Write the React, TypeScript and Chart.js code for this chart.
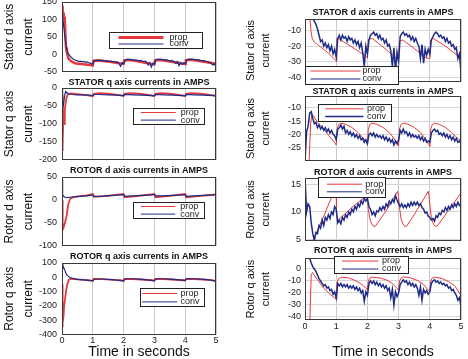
import React, { useEffect, useRef } from "react";
import { Chart, registerables } from "chart.js";

Chart.register(...registerables);

const FONT = "'Liberation Sans', Arial, Helvetica, sans-serif";
Chart.defaults.font.family = FONT;

const RED = "#e6393b";
const BLUE = "#1e2b87";
const GRID = "#c9c9c9";
const HGRID = "#d6d6d6";

// ---------- shared axis values ----------
const TIME_TICKS = [0, 1, 2, 3, 4, 5];
const T05 = [
  0, 0.05, 0.1, 0.15, 0.2, 0.25, 0.3, 0.35, 0.4, 0.45,
  0.5, 0.55, 0.6, 0.65, 0.7, 0.75, 0.8, 0.85, 0.9, 0.95,
  1, 1.05, 1.1, 1.15, 1.2, 1.25, 1.3, 1.35, 1.4, 1.45,
  1.5, 1.55, 1.6, 1.65, 1.7, 1.75, 1.8, 1.85, 1.9, 1.95,
  2, 2.05, 2.1, 2.15, 2.2, 2.25, 2.3, 2.35, 2.4, 2.45,
  2.5, 2.55, 2.6, 2.65, 2.7, 2.75, 2.8, 2.85, 2.9, 2.95,
  3, 3.05, 3.1, 3.15, 3.2, 3.25, 3.3, 3.35, 3.4, 3.45,
  3.5, 3.55, 3.6, 3.65, 3.7, 3.75, 3.8, 3.85, 3.9, 3.95,
  4, 4.05, 4.1, 4.15, 4.2, 4.25, 4.3, 4.35, 4.4, 4.45,
  4.5, 4.55, 4.6, 4.65, 4.7, 4.75, 4.8, 4.85, 4.9, 4.95,
  5,
];

// ---------- LEFT column ----------
const L1_Y_TICKS = [-50, 0, 50, 100, 150];
const L1_PROP_T = [0, 0.01, 0.02, 0.03, 0.05, 0.07, 0.09, 0.11, 0.13, 0.16, 0.21, 0.3, 0.45, 0.7, 1.0, 1.02, 1.2, 1.5, 1.9, 2.0, 2.02, 2.2, 2.5, 2.9, 3.0, 3.02, 3.2, 3.5, 3.9, 4.0, 4.02, 4.2, 4.5, 4.9, 5.0];
const L1_PROP_V = [140, 128, 138, 122, 118, 108, 100, 60, 20, 5, -11, -20, -26, -28, -31, -18, -17, -20, -26, -27, -17, -16, -20, -27, -28, -17, -16, -20, -26, -27, -16, -15, -19, -25, -27];
const L1_CONV_V = [
  130, 85, 45, 15, 3, -3, -8, -12, -15, -17,
  -18, -20, -19, -21, -20, -22, -21, -23, -24, -26,
  -27, -18, -17, -16, -17, -16, -18, -17, -19, -18,
  -19, -20, -19, -21, -20, -22, -21, -25, -34, -24,
  -26, -16, -14, -13, -15, -14, -16, -15, -17, -16,
  -18, -17, -19, -20, -19, -22, -30, -23, -36, -25,
  -28, -15, -13, -14, -13, -15, -14, -16, -15, -17,
  -18, -17, -19, -21, -26, -20, -32, -23, -28, -24,
  -26, -16, -14, -13, -14, -13, -15, -14, -16, -15,
  -17, -18, -17, -19, -20, -21, -22, -26, -30, -27,
  -36,
];

const L2_Y_TICKS = [-200, -150, -100, -50, 0];
const L2_PROP_T = [0, 0.01, 0.02, 0.03, 0.04, 0.05, 0.07, 0.09, 0.12, 0.15, 0.2, 0.3, 0.5, 0.8, 1.0, 1.03, 1.2, 1.5, 1.8, 2.0, 2.03, 2.2, 2.5, 2.8, 3.0, 3.03, 3.2, 3.5, 3.8, 4.0, 4.03, 4.2, 4.5, 4.8, 5.0];
const L2_PROP_V = [-20, -175, -110, -160, -90, -60, -100, -65, -40, -25, -17, -15, -17, -20, -23, -16, -14, -16, -19, -22, -16, -14, -16, -19, -22, -16, -14, -16, -19, -22, -16, -14, -16, -19, -21];
const L2_CONV_T = [0, 0.01, 0.02, 0.03, 0.05, 0.08, 0.1, 0.12, 0.15, 0.2, 0.3, 0.5, 0.7, 0.9, 1.0, 1.05, 1.2, 1.5, 1.8, 2.0, 2.05, 2.3, 2.6, 2.9, 3.0, 3.05, 3.3, 3.6, 3.9, 4.0, 4.05, 4.3, 4.6, 4.9, 5.0];
const L2_CONV_V = [0, -30, -55, -60, -45, -25, -14, -10, -12, -16, -18, -19, -19, -20, -21, -18, -18, -19, -20, -21, -18, -19, -20, -21, -22, -18, -19, -20, -21, -22, -18, -19, -20, -21, -23];

const L3_Y_TICKS = [-100, -50, 0, 50];
const L3_PROP_T = [0, 0.01, 0.03, 0.06, 0.1, 0.15, 0.2, 0.26, 0.35, 0.5, 0.8, 1.0, 1.03, 1.5, 2.0, 2.03, 2.5, 3.0, 3.03, 3.5, 4.0, 4.03, 4.5, 5.0];
const L3_PROP_V = [0, -50, -65, -58, -48, -35, -10, 2, 6, 8, 10, 13, 7, 9, 13, 6, 9, 13, 6, 9, 13, 6, 9, 12];
const L3_CONV_T = [0, 0.02, 0.05, 0.1, 0.15, 0.25, 0.4, 0.6, 0.8, 1.0, 1.05, 1.3, 1.6, 1.9, 2.0, 2.05, 2.3, 2.6, 2.9, 3.0, 3.05, 3.3, 3.6, 3.9, 4.0, 4.05, 4.3, 4.6, 4.9, 5.0];
const L3_CONV_V = [45, 12, 8, 6, 5, 6, 7, 8, 9, 11, 8, 8, 10, 11, 11, 8, 9, 10, 11, 12, 9, 9, 10, 11, 11, 8, 9, 10, 11, 12];

const L4_Y_TICKS = [-400, -300, -200, -100, 0, 100];
const L4_PROP_T = [0, 0.01, 0.02, 0.03, 0.05, 0.07, 0.1, 0.13, 0.17, 0.22, 0.3, 0.5, 0.8, 1.0, 1.03, 1.3, 1.7, 2.0, 2.03, 2.3, 2.7, 3.0, 3.03, 3.3, 3.7, 4.0, 4.03, 4.3, 4.7, 5.0];
const L4_PROP_V = [-50, -350, -260, -320, -270, -200, -150, -100, -50, -18, -10, -14, -20, -25, -12, -13, -18, -24, -11, -12, -17, -22, -11, -12, -17, -22, -11, -12, -17, -25];
const L4_CONV_T = [0, 0.03, 0.06, 0.1, 0.15, 0.2, 0.25, 0.35, 0.5, 0.7, 0.9, 1.0, 1.05, 1.3, 1.6, 1.9, 2.0, 2.05, 2.3, 2.6, 2.9, 3.0, 3.05, 3.3, 3.6, 3.9, 4.0, 4.05, 4.3, 4.6, 4.9, 5.0];
const L4_CONV_V = [100, 80, 65, 45, 18, 8, 0, -8, -14, -18, -22, -25, -12, -12, -16, -22, -27, -10, -10, -15, -22, -25, -10, -10, -15, -20, -22, -9, -10, -15, -22, -30];

// ---------- RIGHT column (zoomed) ----------
const R1_Y_TICKS = [-40, -30, -20, -10];
const R1_PROP_T = [0.13, 0.16, 0.19, 0.23, 0.3, 0.4, 0.5, 0.75, 1.0, 1.02, 1.1, 1.5, 1.92, 2.0, 2.03, 2.15, 2.5, 2.94, 3.0, 3.03, 3.13, 3.5, 3.88, 4.0, 4.03, 4.1, 4.5, 4.89, 5.0];
const R1_PROP_V = [10, -3, -10, -15, -17.5, -19, -20.5, -24.5, -29.5, -15, -15.5, -20.5, -26, -27.5, -16, -15, -20.5, -28, -29, -17, -16, -21.5, -27.5, -28, -16, -15, -20, -26, -27];
const R1_CONV_V = [
  20, 15, 8, 3, -1, -2.5, -4, -6, -9, -13,
  -17, -16, -20, -18, -21, -19, -23, -20, -25, -22,
  -27, -15, -13, -16, -13, -15, -14, -17, -14, -16,
  -15, -18, -16, -19, -17, -21, -18, -24, -33, -20,
  -25, -16, -13, -12, -11, -13, -12, -15, -13, -16,
  -15, -18, -16, -20, -19, -23, -33, -21, -36, -24,
  -30, -14, -12, -11, -13, -12, -14, -13, -16, -14,
  -17, -15, -18, -20, -28, -19, -31, -22, -26, -22,
  -25, -16, -14, -12, -11, -12, -14, -13, -15, -14,
  -17, -15, -18, -17, -20, -19, -22, -21, -28, -25,
  -37,
];

const R2_Y_TICKS = [-25, -20, -15, -10];
const R2_PROP_T = [0.12, 0.14, 0.18, 0.22, 0.3, 0.4, 0.6, 0.8, 0.98, 1.0, 1.03, 1.08, 1.15, 1.3, 1.5, 1.7, 1.85, 1.98, 2.0, 2.03, 2.08, 2.15, 2.3, 2.5, 2.7, 2.85, 2.98, 3.0, 3.03, 3.08, 3.15, 3.3, 3.5, 3.7, 3.85, 3.98, 4.0, 4.03, 4.08, 4.15, 4.3, 4.5, 4.7, 4.85, 5.0];
const R2_PROP_V = [-32, -28, -16, -12.5, -13.5, -15.5, -18, -21, -23.5, -24, -18, -16.3, -15.8, -16.2, -17.4, -19.3, -21.2, -23, -23.5, -18, -16.3, -15.8, -16.2, -17.4, -19.3, -21.5, -24, -24.5, -18, -16.3, -15.8, -16.2, -17.4, -19.3, -21.5, -24, -24.5, -18, -16.3, -15.8, -16.2, -17.4, -19.3, -21, -22.5];
const R2_CONV_V = [
  -30, -19, -17, -12, -11.5, -14, -16, -15.5, -17.5, -16.5,
  -18, -17, -18.5, -17.5, -19, -18, -19.5, -18.5, -20, -20.5,
  -22, -18, -17.5, -16.5, -18, -17, -19.5, -18.5, -20, -19,
  -20.5, -19.5, -21, -20, -21.5, -20.5, -22, -21.5, -23, -22,
  -23.5, -20, -19.5, -20.5, -19.5, -21, -20, -21, -20.5, -21.5,
  -20.5, -22, -21, -22.5, -21.5, -23, -22, -24, -22.5, -23.5,
  -22, -18.5, -19.5, -18, -19.5, -19, -20.5, -19.5, -21, -20,
  -21, -20.5, -21.5, -20.5, -22, -21, -22.5, -21.5, -23, -22.5,
  -23, -19.5, -18.5, -18, -19, -18.5, -20, -19.5, -20.5, -19.5,
  -21, -20, -21.5, -20.5, -22, -21, -22.5, -21.5, -23, -22.5,
  -23.5,
];

const R3_Y_TICKS = [5, 10, 15];
const R3_PROP_T = [0.2, 0.27, 0.6, 1.0, 1.01, 1.06, 1.5, 1.97, 2.0, 2.03, 2.07, 2.12, 2.2, 2.26, 2.6, 2.97, 3.0, 3.03, 3.07, 3.12, 3.2, 3.26, 3.6, 3.95, 3.98, 4.01, 4.05, 4.1, 4.18, 4.24, 4.6, 5.0];
const R3_PROP_V = [2, 5, 9.2, 14.8, 9.5, 8.5, 10.8, 13, 12.2, 10.5, 9, 8, 7.3, 7.4, 10.2, 13.8, 12.8, 10.8, 9, 8, 7.3, 7.4, 10.4, 13.8, 12.8, 10.8, 9, 8, 7.3, 7.4, 10.3, 13.5];
const R3_CONV_V = [
  16.5, 10, 11.5, 11, 8, 6, 4.8, 6.2, 6, 7.5,
  7, 8.5, 7.5, 9, 8.5, 9.5, 8.8, 10, 9.5, 11,
  10.5, 8, 8.5, 7.8, 9, 8.5, 9.5, 9, 10, 9.5,
  10.5, 10, 11, 10.5, 11.5, 11, 12, 11.5, 12.5, 12,
  12.5, 11, 10.5, 9.5, 10, 9.3, 10.2, 10, 10.8, 10.3,
  11, 10.5, 11.5, 11, 12, 11.5, 12.3, 11.8, 13, 12.2,
  11.5, 11, 11.5, 10.8, 11.3, 10.8, 11.5, 11, 11.8, 11.2,
  11.8, 11.3, 11.8, 11.2, 11.5, 10.8, 10.5, 9.8, 10, 9.2,
  9, 8.5, 8.8, 8.3, 9.3, 9, 9.8, 9.5, 10.3, 10,
  10.8, 10.3, 11, 10.5, 11.3, 10.8, 11.5, 11, 11.8, 11.2,
  11.5,
];

const R4_Y_TICKS = [-40, -30, -20, -10, 0];
const R4_PROP_T = [0.15, 0.18, 0.2, 0.24, 0.4, 0.6, 0.8, 1.0, 1.02, 1.08, 1.18, 1.4, 1.6, 1.8, 1.98, 2.0, 2.03, 2.08, 2.15, 2.4, 2.6, 2.8, 2.96, 3.0, 3.03, 3.08, 3.15, 3.4, 3.6, 3.8, 3.96, 4.0, 4.03, 4.08, 4.17, 4.4, 4.6, 4.8, 5.0];
const R4_PROP_V = [-50, -20, -5, -3, -9, -16, -21, -25, -12, -8, -6.8, -7.5, -9.5, -12.5, -16.5, -17.5, -10, -7.5, -6.8, -7.5, -9, -12, -16.5, -18, -10, -7.5, -6.5, -7.5, -9.5, -13, -18, -19, -10, -7.5, -6.8, -8, -10.5, -14, -22];
const R4_CONV_V = [
  60, 30, 15, 9, 5, 2, 0, -2, -5, -8,
  -10, -12, -14, -13, -16, -15, -18, -17, -21, -19,
  -24, -12, -14, -12, -15, -13, -15, -13, -16, -14,
  -16, -14, -17, -15, -18, -16, -20, -18, -27, -19,
  -22, -12, -10, -12, -10, -13, -11, -14, -12, -15,
  -13, -16, -14, -18, -16, -24, -17, -30, -19, -23,
  -20, -13, -11, -9, -11, -10, -13, -11, -14, -12,
  -15, -13, -16, -22, -15, -26, -17, -20, -18, -21,
  -19, -12, -10, -9, -11, -10, -12, -11, -13, -12,
  -14, -13, -16, -15, -18, -17, -20, -22, -26, -24,
  -31,
];

// ---------- layout ----------
type Legend = { dx: number; dy: number; w: number; h: number; rows: number[]; l0: number; l1: number; tx: number; lw: number[] };
type Panel = {
  id: string;
  col: number;
  plot: { l: number; t: number; r: number; b: number };
  title: string | null;
  titleY: number;
  yLabel: string[];
  yMin: number;
  yMax: number;
  yTicks: number[];
  showX: boolean;
  propT: number[];
  propV: number[];
  convT: number[];
  convV: number[];
  propW: number;
  convW: number;
  legend: Legend;
};

const PANELS: Panel[] = [
  {
    id: "L1", col: 0, plot: { l: 62, t: 2, r: 216, b: 72 }, title: null, titleY: 0,
    yLabel: ["Stator d axis", "current"], yMin: -50, yMax: 150, yTicks: L1_Y_TICKS, showX: false,
    propT: L1_PROP_T, propV: L1_PROP_V, convT: T05, convV: L1_CONV_V, propW: 2.5, convW: 1.2,
    legend: { dx: 47, dy: 30, w: 93, h: 16, rows: [5, 11.5], l0: 9, l1: 54, tx: 60, lw: [3, 1] },
  },
  {
    id: "R1", col: 1, plot: { l: 305, t: 19, r: 461, b: 82 }, title: "STATOR d axis currents in AMPS", titleY: 13,
    yLabel: ["Stator d axis", "current"], yMin: -43, yMax: -2.6, yTicks: R1_Y_TICKS, showX: false,
    propT: R1_PROP_T, propV: R1_PROP_V, convT: T05, convV: R1_CONV_V, propW: 1, convW: 1.5,
    legend: { dx: 0, dy: 47, w: 93, h: 18, rows: [4.5, 12.5], l0: 5, l1: 55, tx: 57, lw: [1, 1.2] },
  },
  {
    id: "L2", col: 0, plot: { l: 62, t: 88, r: 216, b: 160 }, title: "STATOR q axis currents in AMPS", titleY: 83,
    yLabel: ["Stator q axis", "current"], yMin: -200, yMax: 0, yTicks: L2_Y_TICKS, showX: false,
    propT: L2_PROP_T, propV: L2_PROP_V, convT: L2_CONV_T, convV: L2_CONV_V, propW: 1.8, convW: 1.2,
    legend: { dx: 70.7, dy: 19.7, w: 70.6, h: 15.6, rows: [4, 11.6], l0: 7.3, l1: 42.3, tx: 47.3, lw: [1, 1] },
  },
  {
    id: "R2", col: 1, plot: { l: 305, t: 96, r: 461, b: 161 }, title: "STATOR q axis currents in AMPS", titleY: 92,
    yLabel: ["Stator q axis", "current"], yMin: -30, yMax: -5.6, yTicks: R2_Y_TICKS, showX: false,
    propT: R2_PROP_T, propV: R2_PROP_V, convT: T05, convV: R2_CONV_V, propW: 1, convW: 1.5,
    legend: { dx: 13.3, dy: 8, w: 73.4, h: 16.7, rows: [4.3, 12], l0: 6.7, l1: 45, tx: 48.4, lw: [1, 1.5] },
  },
  {
    id: "L3", col: 0, plot: { l: 62, t: 177, r: 216, b: 246 }, title: "ROTOR d axis currents in AMPS", titleY: 170.5,
    yLabel: ["Rotor d axis", "current"], yMin: -100, yMax: 50, yTicks: L3_Y_TICKS, showX: false,
    propT: L3_PROP_T, propV: L3_PROP_V, convT: L3_CONV_T, convV: L3_CONV_V, propW: 1.8, convW: 1.2,
    legend: { dx: 71.3, dy: 24.7, w: 70.7, h: 15.6, rows: [4, 11.6], l0: 7.4, l1: 41.7, tx: 46.7, lw: [1, 1] },
  },
  {
    id: "R3", col: 1, plot: { l: 305, t: 178.3, r: 461, b: 240.7 }, title: "ROTOR d axis currents in AMPS", titleY: 172.5,
    yLabel: ["Rotor d axis", "current"], yMin: 4.7, yMax: 16.2, yTicks: R3_Y_TICKS, showX: false,
    propT: R3_PROP_T, propV: R3_PROP_V, convT: T05, convV: R3_CONV_V, propW: 1, convW: 1.5,
    legend: { dx: 13.3, dy: -1.3, w: 66.7, h: 20, rows: [6.7, 14.3], l0: 8.4, l1: 43.4, tx: 46.7, lw: [1, 1] },
  },
  {
    id: "L4", col: 0, plot: { l: 62, t: 263, r: 216, b: 334.5 }, title: "ROTOR q axis currents in AMPS", titleY: 256.7,
    yLabel: ["Rotor q axis", "current"], yMin: -400, yMax: 100, yTicks: L4_Y_TICKS, showX: true,
    propT: L4_PROP_T, propV: L4_PROP_V, convT: L4_CONV_T, convV: L4_CONV_V, propW: 1.8, convW: 1.2,
    legend: { dx: 78, dy: 25.3, w: 64, h: 18.4, rows: [5, 13.4], l0: 1.7, l1: 36.7, tx: 40, lw: [1, 1] },
  },
  {
    id: "R4", col: 1, plot: { l: 305, t: 258.3, r: 461, b: 320 }, title: "ROTOR q axis currents in AMPS", titleY: 251,
    yLabel: ["Rotor q axis", "current"], yMin: -42.5, yMax: 8.9, yTicks: R4_Y_TICKS, showX: true,
    propT: R4_PROP_T, propV: R4_PROP_V, convT: T05, convV: R4_CONV_V, propW: 1, convW: 1.5,
    legend: { dx: 29.3, dy: -2.3, w: 74, h: 17, rows: [4.5, 12.5], l0: 7.4, l1: 44, tx: 47.4, lw: [1, 1] },
  },
];

const X_BOTTOM = 361;

function geom(p: Panel) {
  const cl = p.col === 0 ? 0 : 234;
  const cr = p.col === 0 ? 224 : 468;
  const yAxisW = p.plot.l - cl;
  const padRight = cr - p.plot.r;
  let ct: number;
  let padTop = 0;
  let titlePadTop = 0;
  let titlePadBottom = 0;
  if (p.title) {
    ct = Math.round(p.titleY - 5.5);
    titlePadTop = p.titleY - 4.5 - ct;
    titlePadBottom = p.plot.t - ct - 9 - titlePadTop;
  } else {
    ct = Math.floor(p.plot.t) - 8;
    padTop = p.plot.t - ct;
  }
  let cb: number;
  let xAxisH: number;
  let padBottom: number;
  if (p.showX) {
    cb = X_BOTTOM;
    xAxisH = cb - p.plot.b;
    padBottom = 0;
  } else {
    cb = Math.ceil(p.plot.b) + 4;
    xAxisH = 0;
    padBottom = cb - p.plot.b;
  }
  return { cl, ct, w: cr - cl, h: cb - ct, yAxisW, padRight, padTop, padBottom, xAxisH, titlePadTop, titlePadBottom };
}

function makeFrameLegend(lg: Legend) {
  return {
    id: "frameLegend",
    afterDatasetsDraw(chart: any) {
      const { ctx, chartArea: a } = chart;
      ctx.save();
      ctx.strokeStyle = "#3a3a3a";
      ctx.lineWidth = 1;
      const x0 = Math.round(a.left) + 0.5;
      const y0 = Math.round(a.top) + 0.5;
      const x1 = Math.round(a.right) - 0.5;
      const y1 = Math.round(a.bottom) - 0.5;
      ctx.strokeRect(x0, y0, x1 - x0, y1 - y0);

      const bx = Math.round(a.left + lg.dx) + 0.5;
      const by = Math.round(a.top + lg.dy) + 0.5;
      ctx.fillStyle = "#ffffff";
      ctx.fillRect(bx, by, lg.w, lg.h);
      ctx.strokeStyle = "#222";
      ctx.lineWidth = 1;
      ctx.strokeRect(bx, by, Math.round(lg.w), Math.round(lg.h));
      ctx.font = `9px ${FONT}`;
      ctx.textBaseline = "middle";
      ctx.textAlign = "left";
      chart.data.datasets.forEach((ds: any, i: number) => {
        const ry = by + lg.rows[i];
        ctx.strokeStyle = ds.borderColor;
        ctx.lineWidth = lg.lw[i];
        ctx.beginPath();
        ctx.moveTo(bx + lg.l0, ry);
        ctx.lineTo(bx + lg.l1, ry);
        ctx.stroke();
        ctx.fillStyle = "#222";
        ctx.fillText(ds.label, bx + lg.tx, ry);
      });
      ctx.restore();
    },
  };
}

function buildConfig(p: Panel, g: ReturnType<typeof geom>): any {
  const left = p.col === 0;
  return {
    type: "line",
    data: {
      datasets: [
        {
          label: "prop",
          data: p.propT.map((t, i) => ({ x: t, y: p.propV[i] })),
          borderColor: RED,
          borderWidth: p.propW,
          pointRadius: 0,
          tension: 0,
          order: 1,
        },
        {
          label: "conv",
          data: p.convT.map((t, i) => ({ x: t, y: p.convV[i] })),
          borderColor: BLUE,
          borderWidth: p.convW,
          pointRadius: 0,
          tension: 0,
          order: 0,
        },
      ],
    },
    options: {
      animation: false,
      responsive: false,
      maintainAspectRatio: false,
      events: [],
      layout: { padding: { top: g.padTop, right: g.padRight, bottom: g.padBottom, left: 0 } },
      plugins: {
        legend: { display: false },
        tooltip: { enabled: false },
        title: {
          display: !!p.title,
          text: p.title || "",
          fullSize: false,
          color: "#111",
          font: { size: 9, weight: "bold", lineHeight: 1, family: FONT },
          padding: { top: g.titlePadTop, bottom: g.titlePadBottom },
        },
      },
      scales: {
        x: {
          type: "linear",
          min: 0,
          max: 5,
          afterBuildTicks: (s: any) => {
            s.ticks = TIME_TICKS.map((v) => ({ value: v }));
          },
          afterFit: (s: any) => {
            s.height = g.xAxisH;
            s.paddingLeft = 0;
            s.paddingRight = 0;
          },
          grid: { color: GRID, lineWidth: 1, drawTicks: false },
          border: { display: false },
          ticks: { display: p.showX, padding: 1, color: "#222", font: { size: 9 }, maxRotation: 0, autoSkip: false },
          title: {
            display: p.showX,
            text: "Time in seconds",
            color: "#111",
            font: { size: 14, lineHeight: 1.2 },
            padding: 0,
          },
        },
        y: {
          type: "linear",
          min: p.yMin,
          max: p.yMax,
          afterBuildTicks: (s: any) => {
            s.ticks = p.yTicks.map((v) => ({ value: v }));
          },
          afterFit: (s: any) => {
            s.width = g.yAxisW;
            s.paddingTop = 0;
            s.paddingBottom = 0;
          },
          grid: { display: !left, color: HGRID, lineWidth: 1, drawTicks: false },
          border: { display: false },
          ticks: { padding: left ? 5 : 4, color: "#222", font: { size: 9 }, autoSkip: false },
          title: {
            display: true,
            text: p.yLabel,
            color: "#111",
            font: { size: left ? 12 : 11, lineHeight: left ? 19 / 12 : 15 / 11 },
            padding: { top: left ? 0 : 9.2, bottom: 0 },
          },
        },
      },
    },
    plugins: [makeFrameLegend(p.legend)],
  };
}

function PanelChart({ p }: { p: Panel }) {
  const ref = useRef<HTMLCanvasElement | null>(null);
  const g = geom(p);
  useEffect(() => {
    if (!ref.current) return;
    const chart = new Chart(ref.current, buildConfig(p, g));
    return () => chart.destroy();
  }, []);
  return (
    <canvas
      ref={ref}
      width={g.w}
      height={g.h}
      style={{ position: "absolute", left: g.cl, top: g.ct, width: g.w, height: g.h }}
    />
  );
}

export default function App() {
  return (
    <div
      style={{
        position: "absolute",
        left: 0,
        top: 0,
        width: 468,
        height: 359,
        overflow: "hidden",
        background: "#ffffff",
      }}
    >
      {PANELS.map((p) => (
        <PanelChart key={p.id} p={p} />
      ))}
    </div>
  );
}
